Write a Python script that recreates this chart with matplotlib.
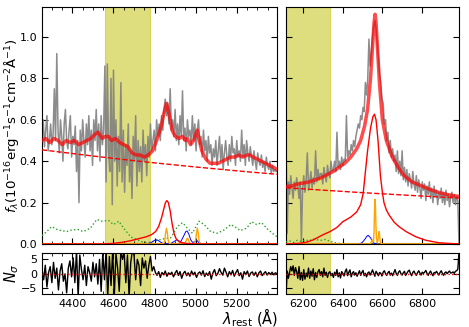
import numpy as np
import matplotlib
matplotlib.use("Agg")
import matplotlib.pyplot as plt
from matplotlib.ticker import MultipleLocator

# ---------------- data: left window (H-beta) ----------------
wl_left_start, wl_left_step = 4252, 6
flux_left = [
    0.52, 0.60, 0.47, 0.55, 0.62, 0.45, 0.50, 0.58, 0.48, 0.53,
    0.75, 0.50, 0.92, 0.55, 0.44, 0.60, 0.52, 0.40, 0.58, 0.65,
    0.50, 0.46, 0.55, 0.62, 0.42, 0.52, 0.48, 0.57, 0.35, 0.50,
    0.20, 0.55, 0.45, 0.60, 0.50, 0.42, 0.58, 0.48, 0.62, 0.45,
    0.55, 0.38, 0.60, 0.50, 0.65, 0.45, 0.58, 0.40, 0.62, 0.48,
    0.55, 0.86, 0.30, 0.87, 0.45, 0.35, 0.80, 0.19, 0.84, 0.40,
    0.60, 0.28, 0.52, 0.35, 0.78, 0.30, 0.55, 0.25, 0.48, 0.38,
    0.58, 0.30, 0.45, 0.22, 0.52, 0.40, 0.62, 0.28, 0.50, 0.35,
    0.47, 0.30, 0.55, 0.40, 0.48, 0.33, 0.52, 0.42, 0.58, 0.45,
    0.50, 0.55, 0.45, 0.60, 0.52, 0.58, 0.50, 0.62, 0.55, 0.65,
    0.70, 0.62, 0.68, 0.58, 0.75, 0.55, 0.60, 0.52, 0.65, 0.50,
    0.58, 0.48, 0.62, 0.52, 0.74, 0.50, 0.56, 0.45, 0.60, 0.52,
    0.55, 0.48, 0.62, 0.50, 0.58, 0.45, 0.55, 0.60, 0.48, 0.52,
    0.42, 0.55, 0.45, 0.50, 0.40, 0.52, 0.44, 0.48, 0.38, 0.46,
    0.42, 0.50, 0.38, 0.45, 0.52, 0.40, 0.48, 0.36, 0.44, 0.50,
    0.42, 0.38, 0.48, 0.40, 0.52, 0.44, 0.46, 0.38, 0.50, 0.42,
    0.45, 0.40, 0.55, 0.42, 0.48, 0.38, 0.50, 0.44, 0.40, 0.47,
    0.42, 0.38, 0.45, 0.40, 0.36, 0.44, 0.40, 0.38, 0.43, 0.37,
    0.40, 0.35, 0.42, 0.38, 0.36, 0.40, 0.34, 0.38, 0.35, 0.36,
    0.35,
]

model_left_wl = [4252, 4270, 4290, 4310, 4330, 4350, 4370, 4390, 4410, 4430, 4450, 4470,
                 4490, 4510, 4525, 4545, 4560, 4575, 4590, 4610, 4630, 4650, 4670, 4690,
                 4710, 4730, 4750, 4770, 4790, 4810, 4830, 4845, 4858, 4870, 4885, 4900,
                 4920, 4935, 4950, 4960, 4975, 4990, 5000, 5008, 5018, 5030, 5050, 5070,
                 5090, 5110, 5130, 5150, 5170, 5190, 5210, 5230, 5250, 5265, 5280, 5300,
                 5320, 5340, 5360, 5380, 5396]
model_left = [0.50, 0.51, 0.49, 0.51, 0.50, 0.48, 0.50, 0.49, 0.50, 0.48, 0.49, 0.50,
              0.51, 0.53, 0.54, 0.51, 0.52, 0.52, 0.50, 0.51, 0.49, 0.48, 0.47, 0.44,
              0.43, 0.43, 0.42, 0.43, 0.45, 0.50, 0.56, 0.63, 0.68, 0.63, 0.55, 0.52,
              0.51, 0.52, 0.50, 0.51, 0.48, 0.50, 0.53, 0.55, 0.50, 0.45, 0.41, 0.39,
              0.39, 0.39, 0.40, 0.41, 0.42, 0.42, 0.43, 0.42, 0.43, 0.43, 0.42, 0.41,
              0.40, 0.39, 0.38, 0.37, 0.36]

cont_left_wl = [4252, 4500, 4750, 5000, 5250, 5396]
cont_left = [0.455, 0.425, 0.397, 0.372, 0.349, 0.337]

feii_left_wl = [4252, 4275, 4299, 4330, 4372, 4397, 4428, 4452, 4487, 4519, 4544, 4576,
                4600, 4626, 4650, 4683, 4716, 4748, 4781, 4813, 4846, 4879, 4911, 4936,
                4960, 4984, 5016, 5041, 5073, 5106, 5138, 5171, 5203, 5216, 5248, 5272,
                5297, 5321, 5346, 5378, 5396]
feii_left = [0.04, 0.06, 0.084, 0.068, 0.06, 0.068, 0.07, 0.06, 0.076, 0.119, 0.11, 0.114,
             0.094, 0.11, 0.076, 0.035, 0.02, 0.008, 0.008, 0.018, 0.025, 0.03, 0.084, 0.103,
             0.076, 0.052, 0.11, 0.094, 0.06, 0.052, 0.068, 0.094, 0.076, 0.065, 0.076, 0.108,
             0.094, 0.103, 0.076, 0.048, 0.035]

hb_broad_wl = [4252, 4550, 4600, 4640, 4680, 4720, 4760, 4785, 4805, 4820, 4835, 4845,
               4853, 4860, 4867, 4876, 4885, 4895, 4905, 4920, 4950, 5000, 5396]
hb_broad = [0.0, 0.0, 0.003, 0.008, 0.015, 0.025, 0.035, 0.045, 0.06, 0.085, 0.13, 0.17,
            0.20, 0.21, 0.20, 0.16, 0.10, 0.05, 0.025, 0.01, 0.003, 0.0, 0.0]

narrow_left_wl = [4252, 4830, 4845, 4850, 4854, 4858, 4862, 4866, 4871, 4880, 4945, 4952,
                  4957, 4961, 4965, 4970, 4978, 4995, 5000, 5004, 5008, 5012, 5016, 5021,
                  5030, 5396]
narrow_left = [0.0, 0.0, 0.004, 0.02, 0.055, 0.076, 0.055, 0.02, 0.004, 0.0, 0.0, 0.01,
               0.025, 0.028, 0.02, 0.006, 0.0, 0.002, 0.02, 0.055, 0.076, 0.055, 0.02, 0.004,
               0.0, 0.0]

wing_left_wl = [4770, 4785, 4800, 4812, 4825, 4840, 4860, 4880, 4895, 4908, 4918, 4928,
                4940, 4952, 4958, 4966, 4976, 4985, 4995, 5005, 5015, 5030]
wing_left = [0.0, 0.008, 0.018, 0.02, 0.012, 0.003, 0.0, 0.003, 0.012, 0.02, 0.015, 0.012,
             0.035, 0.06, 0.063, 0.05, 0.02, 0.008, 0.01, 0.018, 0.008, 0.0]

resid_left_step = 8
resid_left = [
    1.5, -2.0, 3.0, -4.5, 0.5, 2.5, -3.0, 4.0, -1.5, 2.0,
    -5.5, 1.0, 3.5, -2.5, 0.0, -6.5, 2.0, 4.5, -1.0, 5.5,
    -3.0, 8.0, -8.0, 6.5, 1.5, -2.0, 3.0, -4.0, 2.5, 0.5,
    -2.5, 4.0, -1.0, 3.5, -3.5, 5.0, -6.0, 7.5, -2.0, 8.0,
    -8.0, 6.0, -4.0, 8.0, -7.5, 7.0, 2.0, -6.0, 8.0, 5.0,
    7.5, -3.0, 6.5, -8.0, 4.0, 8.0, 6.5, -2.0, 5.0, 3.0,
    -4.0, 5.5, 2.0, 4.5, -1.5, 3.0, 6.0, 1.0, 2.5, 0.5,
    -0.5, 0.8, -1.2, 0.5, -0.3, 1.0, -0.8, 0.4, -0.2, 0.6,
    -1.0, 0.3, 1.2, -0.5, 0.8, -1.5, 0.2, 0.9, -0.6, 0.4,
    -0.8, 1.0, -0.3, 0.6, -1.2, 0.2, 0.7, -0.4, 1.1, -0.9,
    0.3, -0.5, 0.8, -1.8, 0.4, 1.5, -0.6, 0.2, 1.8, 0.5,
    -0.4, 2.0, 0.6, -1.0, 0.8, -0.3, 1.2, -0.8, 0.5, 1.5,
    -0.6, 0.4, -1.8, 0.8, -0.2, 1.0, -0.9, 0.3, 0.7, -0.5,
    0.6, -1.0, 0.4, 1.0, -0.6, 0.2, 0.8, -0.4, 0.5, -0.2,
    0.6, -0.3, 0.4, 0.1,
]

# ---------------- data: right window (H-alpha) ----------------
wl_right_start, wl_right_step = 6112, 6
flux_right = [
    0.52, 0.05, 0.30, 0.24, 0.33, 0.27, 0.22, 0.30, 0.26, 0.32,
    0.28, 0.22, 0.30, 0.01, 0.27, 0.33, 0.25, 0.31, 0.44, 0.26,
    0.30, 0.35, 0.27, 0.32, 0.29, 0.45, 0.30, 0.36, 0.31, 0.34,
    0.34, 0.29, 0.37, 0.33, 0.30, 0.38, 0.34, 0.32, 0.40, 0.35,
    0.36, 0.40, 0.35, 0.54, 0.37, 0.40, 0.36, 0.42, 0.38, 0.41,
    0.40, 0.62, 0.42, 0.45, 0.43, 0.48, 0.45, 0.50, 0.47, 0.52,
    0.55, 0.58, 0.56, 0.62, 0.60, 0.66, 0.64, 0.78, 0.72, 0.80,
    0.99, 0.86, 0.92, 1.00, 1.05, 1.08, 1.04, 0.97, 0.90, 0.82,
    0.78, 0.70, 0.68, 0.58, 0.60, 0.50, 0.54, 0.44, 0.50, 0.42,
    0.46, 0.40, 0.43, 0.35, 0.45, 0.34, 0.40, 0.33, 0.45, 0.31,
    0.37, 0.30, 0.36, 0.28, 0.34, 0.31, 0.27, 0.35, 0.29, 0.26,
    0.33, 0.25, 0.31, 0.27, 0.22, 0.30, 0.26, 0.29, 0.21, 0.28,
    0.24, 0.30, 0.22, 0.27, 0.20, 0.28, 0.23, 0.26, 0.19, 0.25,
    0.22, 0.27, 0.20, 0.25, 0.19, 0.26, 0.21, 0.24, 0.18, 0.23,
    0.25, 0.20, 0.24, 0.19, 0.23, 0.21, 0.00,
]

model_right_wl = [6112, 6140, 6170, 6200, 6230, 6260, 6290, 6320, 6350, 6380, 6410, 6440,
                  6470, 6490, 6510, 6525, 6540, 6550, 6558, 6563, 6568, 6575, 6585, 6600,
                  6620, 6650, 6680, 6710, 6750, 6800, 6850, 6900, 6950, 6988]
model_right = [0.278, 0.28, 0.29, 0.295, 0.30, 0.31, 0.32, 0.335, 0.35, 0.37, 0.39, 0.42,
               0.46, 0.50, 0.57, 0.65, 0.80, 0.95, 1.07, 1.11, 1.07, 0.95, 0.78, 0.60,
               0.50, 0.42, 0.37, 0.33, 0.30, 0.28, 0.26, 0.245, 0.235, 0.23]

cont_right_wl = [6112, 6300, 6500, 6700, 6988]
cont_right = [0.272, 0.260, 0.248, 0.237, 0.222]

feii_right_wl = [6112, 6130, 6150, 6170, 6190, 6210, 6230, 6250, 6270, 6290, 6310, 6330,
                 6350, 6380, 6420, 6988]
feii_right = [0.01, 0.015, 0.008, 0.018, 0.012, 0.02, 0.015, 0.025, 0.02, 0.018, 0.022,
              0.015, 0.008, 0.003, 0.0, 0.0]

ha_broad_wl = [6112, 6180, 6220, 6250, 6300, 6335, 6370, 6400, 6440, 6470, 6490, 6503,
               6512, 6525, 6540, 6552, 6560, 6568, 6578, 6590, 6600, 6608, 6620, 6634,
               6660, 6684, 6720, 6769, 6820, 6886, 6950, 6988]
ha_broad = [0.0, 0.003, 0.01, 0.02, 0.045, 0.06, 0.08, 0.108, 0.13, 0.155, 0.19, 0.245,
            0.33, 0.45, 0.56, 0.615, 0.627, 0.60, 0.50, 0.33, 0.25, 0.20, 0.165, 0.14,
            0.105, 0.084, 0.06, 0.035, 0.018, 0.006, 0.002, 0.001]

narrow_right_wl = [6112, 6530, 6540, 6545, 6548, 6551, 6555, 6558, 6560, 6562, 6563, 6565,
                   6567, 6570, 6574, 6578, 6581, 6583, 6585, 6588, 6592, 6600, 6988]
narrow_right = [0.0, 0.0, 0.003, 0.012, 0.02, 0.012, 0.01, 0.06, 0.15, 0.21, 0.216, 0.18,
                0.10, 0.03, 0.006, 0.02, 0.05, 0.06, 0.05, 0.02, 0.004, 0.0, 0.0]

wing_right_wl = [6480, 6495, 6505, 6515, 6522, 6528, 6534, 6540, 6546, 6552, 6560, 6570]
wing_right = [0.0, 0.005, 0.015, 0.028, 0.038, 0.042, 0.036, 0.03, 0.02, 0.01, 0.003, 0.0]

resid_right = [
    -7.5, 1.0, -1.5, 0.5, 2.5, 1.0, 2.8, -0.5, 2.2, 0.8,
    -1.5, 2.5, -2.0, 0.5, -2.2, 1.5, -1.8, 0.3, -1.0, 2.0,
    -1.5, 1.0, -0.8, 1.8, -2.0, 0.5, -1.2, 0.8, 1.5, -0.5,
    0.8, -1.0, 2.0, -0.5, 0.6, -1.2, 0.3, 0.8, -0.6, 0.2,
    -1.2, 0.6, -0.5, 1.5, -1.0, 0.4, -1.4, 0.8, 0.2, -0.7,
    0.9, 1.7, -0.6, 0.6, 1.4, -1.0, 0.3, 0.8, -0.4, 0.4,
    -0.8, 0.2, 1.1, -0.5, 0.5, 1.2, -0.6, 0.2, -1.0, 0.3,
    0.7, -0.4, 0.4, 1.4, 0.3, -0.8, 0.9, 0.2, -0.6, 0.5,
    0.2, -0.7, 0.6, 1.1, 0.1, -0.5, 0.4, 0.9, -0.4, 0.3,
    -0.6, 0.5, 1.5, 0.2, -0.5, 0.6, 1.1, 0.1, -0.4, 0.4,
    0.9, -0.5, 0.2, 0.9, 1.3, 0.2, -0.6, 0.5, 1.0, 0.1,
    -0.5, 0.4, 1.1, 0.3, -0.4, 0.6, 0.2, 0.6, 1.2, 0.2,
    -0.5, 0.4, 1.0, 0.1, -0.6, 0.5, 0.3, 0.9, 0.2, -0.4,
    0.5, 1.1, 0.2, -0.5, 0.4, 0.7, 0.1, 0.6, 1.0, 0.3,
    0.4, 0.7, 0.2, 0.9, 1.1, 1.6, 7.5,
]

masks = {"left": (4560, 4780), "right": (6112, 6335)}
xlims = {"left": (4252, 5396), "right": (6112, 6988)}

# ---------------- plotting ----------------
plt.rcParams["font.family"] = ["DejaVu Sans"]
plt.rcParams["font.size"] = 8

W, H = 469, 327
fig = plt.figure(figsize=(W / 100, H / 100), dpi=100)

def frac(x0, y0, x1, y1):
    return [x0 / W, 1 - y1 / H, (x1 - x0) / W, (y1 - y0) / H]

ax_tl = fig.add_axes(frac(42, 7, 277, 244))
ax_tr = fig.add_axes(frac(286, 7, 459, 244))
ax_bl = fig.add_axes(frac(42, 253, 277, 294))
ax_br = fig.add_axes(frac(286, 253, 459, 294))

wl_left = wl_left_start + wl_left_step * np.arange(len(flux_left))
wl_right = wl_right_start + wl_right_step * np.arange(len(flux_right))
wl_resid_left = wl_left_start + resid_left_step * np.arange(len(resid_left))

panels = [
    (ax_tl, ax_bl, "left", wl_left, flux_left, model_left_wl, model_left, cont_left_wl, cont_left,
     feii_left_wl, feii_left, hb_broad_wl, hb_broad, narrow_left_wl, narrow_left,
     wing_left_wl, wing_left, wl_resid_left, resid_left),
    (ax_tr, ax_br, "right", wl_right, flux_right, model_right_wl, model_right, cont_right_wl,
     cont_right, feii_right_wl, feii_right, ha_broad_wl, ha_broad, narrow_right_wl,
     narrow_right, wing_right_wl, wing_right, wl_right, resid_right),
]

for (axt, axb, key, wl, fl, mwl, mod, cwl, cont, fwl, fe, bwl, br, nwl, nr, wwl, wg,
     rwl, res) in panels:
    lo, hi = masks[key]
    for a in (axt, axb):
        a.axvspan(lo, hi, color="y", alpha=0.5, lw=0.8, zorder=0)
    axt.plot(wl, fl, color="gray", lw=1.1, alpha=0.9, zorder=2)
    axt.plot(xlims[key], [0, 0], color="#a0522d", lw=1.5, zorder=2)
    axt.plot(fwl, fe, color="tab:green", ls=":", lw=1.0, zorder=3)
    axt.plot(wwl, wg, color="blue", lw=0.7, zorder=3)
    axt.plot(nwl, nr, color="orange", lw=1.0, zorder=3)
    axt.plot(bwl, br, color="red", lw=1.0, zorder=3)
    axt.plot(cwl, cont, color="red", ls="--", lw=1.0, zorder=3)
    axt.plot(mwl, mod, color="red", lw=2.5, alpha=0.7, zorder=4)
    axb.plot(rwl, res, color="black", lw=1.0, zorder=2)
    axb.axhline(0, color="red", ls=":", lw=1.0, zorder=3)

    for a in (axt, axb):
        a.set_xlim(*xlims[key])
        a.tick_params(which="both", direction="in", top=True, right=True)
        a.tick_params(which="major", length=4)
        a.tick_params(which="minor", length=2)
        a.xaxis.set_major_locator(MultipleLocator(200))
        if key == "left":
            a.xaxis.set_minor_locator(MultipleLocator(50))
    axt.set_ylim(0, 1.145)
    axt.yaxis.set_major_locator(MultipleLocator(0.2))
    axt.tick_params(labelbottom=False)
    axb.set_ylim(-6.9, 7.2)
    axb.set_yticks([-5, 0, 5])

ax_tr.tick_params(labelleft=False)
ax_br.tick_params(labelleft=False)

ax_tl.set_ylabel(r"$f_\lambda(10^{-16}$erg$^{-1}$s$^{-1}$cm$^{-2}$Å$^{-1}$)", fontsize=9.6,
                 va="center")
ax_tl.yaxis.set_label_coords(-0.131, 0.5)
ax_bl.set_ylabel(r"$N_\sigma$", fontsize=10.5, va="center")
ax_bl.yaxis.set_label_coords(-0.131, 0.5)
fig.text(250 / W, 1 - 318 / H, r"$\lambda_{\rm rest}$ (Å)", ha="center", va="center", fontsize=10.5)

fig.savefig("out.png", dpi=100)
